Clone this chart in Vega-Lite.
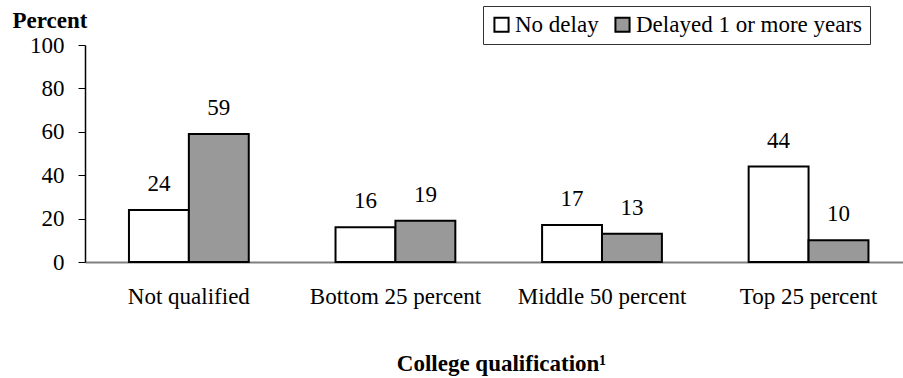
{
  "$schema": "https://vega.github.io/schema/vega-lite/v6.json",
  "width": 818,
  "height": 217,
  "autosize": {"type": "none"},
  "padding": {"left": 85, "top": 45, "right": 0, "bottom": 116},
  "background": "white",
  "config": {
    "view": {"stroke": null},
    "font": "Liberation Serif"
  },
  "data": {
    "values": [
      {"qual": "Not qualified", "delay": "No delay", "pct": 24},
      {"qual": "Not qualified", "delay": "Delayed 1 or more years", "pct": 59},
      {"qual": "Bottom 25 percent", "delay": "No delay", "pct": 16},
      {"qual": "Bottom 25 percent", "delay": "Delayed 1 or more years", "pct": 19},
      {"qual": "Middle 50 percent", "delay": "No delay", "pct": 17},
      {"qual": "Middle 50 percent", "delay": "Delayed 1 or more years", "pct": 13},
      {"qual": "Top 25 percent", "delay": "No delay", "pct": 44},
      {"qual": "Top 25 percent", "delay": "Delayed 1 or more years", "pct": 10}
    ]
  },
  "encoding": {
    "x": {
      "field": "qual",
      "type": "nominal",
      "sort": ["Not qualified", "Bottom 25 percent", "Middle 50 percent", "Top 25 percent"],
      "scale": {"paddingInner": 0.42, "paddingOuter": 0.19, "align": 0.56},
      "axis": {
        "title": "College qualification¹",
        "titleFont": "Liberation Serif",
        "titleFontSize": 23,
        "titleFontWeight": "bold",
        "titleColor": "black",
        "titleBaseline": "alphabetic",
        "titleX": 416,
        "titleY": 108,
        "labelAngle": 0,
        "labelFont": "Liberation Serif",
        "labelFontSize": 23,
        "labelColor": "black",
        "labelPadding": 23,
        "labelLimit": 400,
        "ticks": false,
        "domainColor": "#808080",
        "domainWidth": 2
      }
    },
    "xOffset": {
      "field": "delay",
      "type": "nominal",
      "sort": ["No delay", "Delayed 1 or more years"],
      "scale": {"paddingInner": 0, "paddingOuter": 0}
    },
    "y": {
      "field": "pct",
      "type": "quantitative",
      "scale": {"domain": [0, 100], "nice": false},
      "axis": {
        "values": [0, 20, 40, 60, 80, 100],
        "grid": false,
        "title": "Percent",
        "titleAngle": 0,
        "titleAlign": "left",
        "titleBaseline": "alphabetic",
        "titleX": -73,
        "titleY": -18,
        "titleFont": "Liberation Serif",
        "titleFontSize": 23,
        "titleFontWeight": "bold",
        "titleColor": "black",
        "labelFont": "Liberation Serif",
        "labelFontSize": 23,
        "labelColor": "black",
        "labelPadding": 14,
        "tickSize": 7,
        "tickColor": "black",
        "domainColor": "black",
        "domainWidth": 1.5
      }
    }
  },
  "layer": [
    {
      "mark": {"type": "bar", "stroke": "black", "strokeWidth": 2},
      "encoding": {
        "fill": {
          "field": "delay",
          "type": "nominal",
          "sort": ["No delay", "Delayed 1 or more years"],
          "scale": {"domain": ["No delay", "Delayed 1 or more years"], "range": ["white", "#999999"]},
          "legend": {
            "title": null,
            "orient": "none",
            "direction": "horizontal",
            "legendX": 398,
            "legendY": -39,
            "strokeColor": "#333333",
            "padding": 7,
            "symbolType": "square",
            "symbolSize": 200,
            "symbolStrokeColor": "black",
            "symbolStrokeWidth": 2,
            "symbolOpacity": 1,
            "labelFont": "Liberation Serif",
            "labelFontSize": 23,
            "labelColor": "black",
            "labelOffset": 2,
            "labelLimit": 400,
            "columnPadding": 12
          }
        }
      }
    },
    {
      "mark": {"type": "text", "baseline": "alphabetic", "dy": -19, "fontSize": 23, "color": "black", "font": "Liberation Serif"},
      "encoding": {
        "text": {"field": "pct", "type": "quantitative"}
      }
    }
  ]
}
